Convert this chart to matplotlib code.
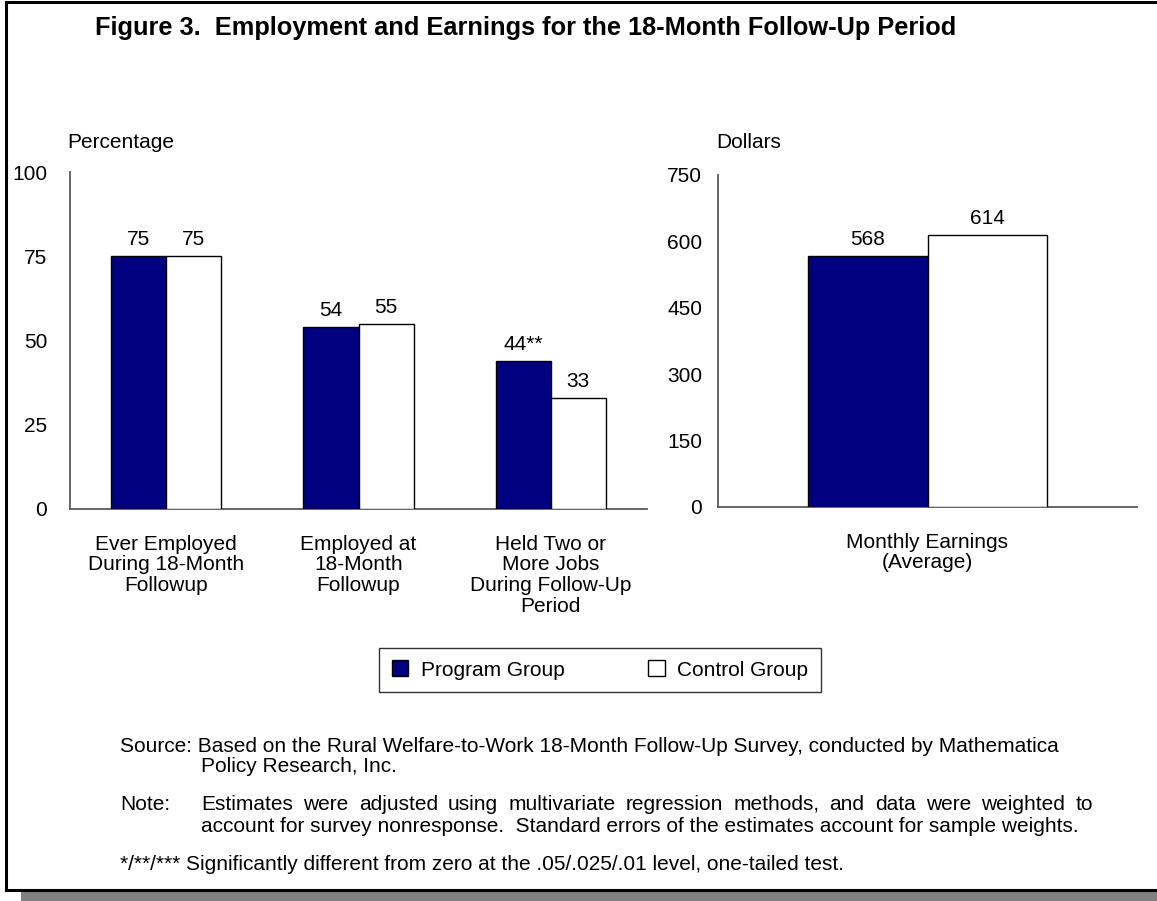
import matplotlib
matplotlib.use("Agg")
import matplotlib.pyplot as plt
from matplotlib.lines import Line2D
from matplotlib.patches import Rectangle, Patch
import numpy as np

plt.rcParams['font.family'] = ['Liberation Sans', 'DejaVu Sans']

# ---------------- data ----------------
categories = ["Ever Employed\nDuring 18-Month\nFollowup",
              "Employed at\n18-Month\nFollowup",
              "Held Two or\nMore Jobs\nDuring Follow-Up\nPeriod"]
program_pct = [75, 54, 44]
control_pct = [75, 55, 33]
program_pct_labels = ["75", "54", "44**"]
control_pct_labels = ["75", "55", "33"]
pct_ticks = [0, 25, 50, 75, 100]

earn_categories = ["Monthly Earnings\n(Average)"]
program_earn = [568]
control_earn = [614]
program_earn_labels = ["568"]
control_earn_labels = ["614"]
earn_ticks = [0, 150, 300, 450, 600, 750]

series_names = ["Program Group", "Control Group"]

# ---------------- style ----------------
NAVY = "#000080"
AXC = "#5a5a5a"
FS = 15
W, H = 1157, 901
fig = plt.figure(figsize=(W / 100, H / 100), dpi=100)

def fx(px):
    return px / W

def fy(py):
    return 1 - py / H

bw = 0.286

def style_axes(ax, pad):
    for s in ["top", "right"]:
        ax.spines[s].set_visible(False)
    for s in ["left", "bottom"]:
        ax.spines[s].set_color(AXC)
        ax.spines[s].set_linewidth(1.3)
    ax.tick_params(axis="y", length=0, pad=pad, labelsize=FS)
    ax.tick_params(axis="x", length=0, pad=18.5, labelsize=FS)

# left panel
axL = fig.add_axes([fx(70), fy(509), fx(647) - fx(70), fy(172) - fy(509)])
x = np.arange(len(categories)) + 0.5
b1 = axL.bar(x - bw / 2, program_pct, bw, color=NAVY, edgecolor="black", linewidth=1, zorder=3)
b2 = axL.bar(x + bw / 2, control_pct, bw, color="white", edgecolor="black", linewidth=1, zorder=3)
axL.set_xlim(0, len(categories))
axL.set_ylim(0, 100)
axL.set_yticks(pct_ticks)
axL.set_xticks(x)
axL.set_xticklabels(categories, linespacing=1.12, va="top")
style_axes(axL, 16.5)
for rect, lab in zip(b1, program_pct_labels):
    axL.annotate(lab, (rect.get_x() + rect.get_width() / 2, rect.get_height()),
                 xytext=(0, 5), textcoords="offset points", ha="center", va="bottom", fontsize=FS)
for rect, lab in zip(b2, control_pct_labels):
    axL.annotate(lab, (rect.get_x() + rect.get_width() / 2, rect.get_height()),
                 xytext=(0, 5), textcoords="offset points", ha="center", va="bottom", fontsize=FS)

# right panel
axR = fig.add_axes([fx(718), fy(507), fx(1137) - fx(718), fy(175) - fy(507)])
xr = np.arange(len(earn_categories)) + 0.5
r1 = axR.bar(xr - bw / 2, program_earn, bw, color=NAVY, edgecolor="black", linewidth=1, zorder=3)
r2 = axR.bar(xr + bw / 2, control_earn, bw, color="white", edgecolor="black", linewidth=1, zorder=3)
axR.set_xlim(0, len(earn_categories))
axR.set_ylim(0, 750)
axR.set_yticks(earn_ticks)
axR.set_xticks(xr)
axR.set_xticklabels(earn_categories, linespacing=1.12, va="top")
style_axes(axR, 11.5)
for rect, lab in zip(r1, program_earn_labels):
    axR.annotate(lab, (rect.get_x() + rect.get_width() / 2, rect.get_height()),
                 xytext=(0, 5), textcoords="offset points", ha="center", va="bottom", fontsize=FS)
for rect, lab in zip(r2, control_earn_labels):
    axR.annotate(lab, (rect.get_x() + rect.get_width() / 2, rect.get_height()),
                 xytext=(0, 5), textcoords="offset points", ha="center", va="bottom", fontsize=FS)

# axis titles
fig.text(fx(67), fy(142), "Percentage", fontsize=FS, ha="left", va="center")
fig.text(fx(716), fy(142), "Dollars", fontsize=FS, ha="left", va="center")

# title
fig.text(fx(95), fy(28), "Figure 3.  Employment and Earnings for the 18-Month Follow-Up Period",
         fontsize=18.3, fontweight="bold", ha="left", va="center")

# legend
handles = [Patch(facecolor=NAVY, edgecolor="black", linewidth=1),
           Patch(facecolor="white", edgecolor="black", linewidth=1)]
leg = fig.legend(handles, series_names, loc="center", bbox_to_anchor=(fx(600), fy(670)),
                 ncol=2, frameon=True, fontsize=FS, handlelength=0.8, handleheight=0.8,
                 columnspacing=4.0, handletextpad=0.6, borderpad=0.6, borderaxespad=0,
                 fancybox=False)
leg.get_frame().set_edgecolor("black")
leg.get_frame().set_linewidth(1)

# footnotes
fig.text(fx(120), fy(746), "Source: Based on the Rural Welfare-to-Work 18-Month Follow-Up Survey, conducted by Mathematica",
         fontsize=FS, ha="left", va="center")
fig.text(fx(201), fy(766), "Policy Research, Inc.", fontsize=FS, ha="left", va="center")
fig.text(fx(120), fy(804), "Note:", fontsize=FS, ha="left", va="center")

renderer = fig.canvas.get_renderer()
def justified(line, x0, x1, y):
    words = line.split()
    texts = [fig.text(0, fy(y), w, fontsize=FS, ha="left", va="center") for w in words]
    widths = [t.get_window_extent(renderer).width for t in texts]
    gap = (x1 - x0 - sum(widths)) / (len(words) - 1)
    xx = x0
    for t, wd in zip(texts, widths):
        t.set_x(fx(xx))
        xx += wd + gap

justified("Estimates were adjusted using multivariate regression methods, and data were weighted to",
          201, 1093, 804)
fig.text(fx(201), fy(826), "account for survey nonresponse.  Standard errors of the estimates account for sample weights.",
         fontsize=FS, ha="left", va="center")
fig.text(fx(120), fy(865), "*/**/*** Significantly different from zero at the .05/.025/.01 level, one-tailed test.",
         fontsize=FS, ha="left", va="center")

# frame and shadow
fig.add_artist(Rectangle((fx(21), 0), 1, fy(890) - 0, transform=fig.transFigure,
                         facecolor="#808080", edgecolor="none", zorder=-2))
for (xa, ya, xb, yb) in [(6, 2, 1157, 2), (6, 2, 6, 890), (6, 890, 1157, 890)]:
    fig.add_artist(Line2D([fx(xa), fx(xb)], [fy(ya), fy(yb)], transform=fig.transFigure,
                          color="black", linewidth=2.2, zorder=5))

fig.savefig("out.png", dpi=100)
